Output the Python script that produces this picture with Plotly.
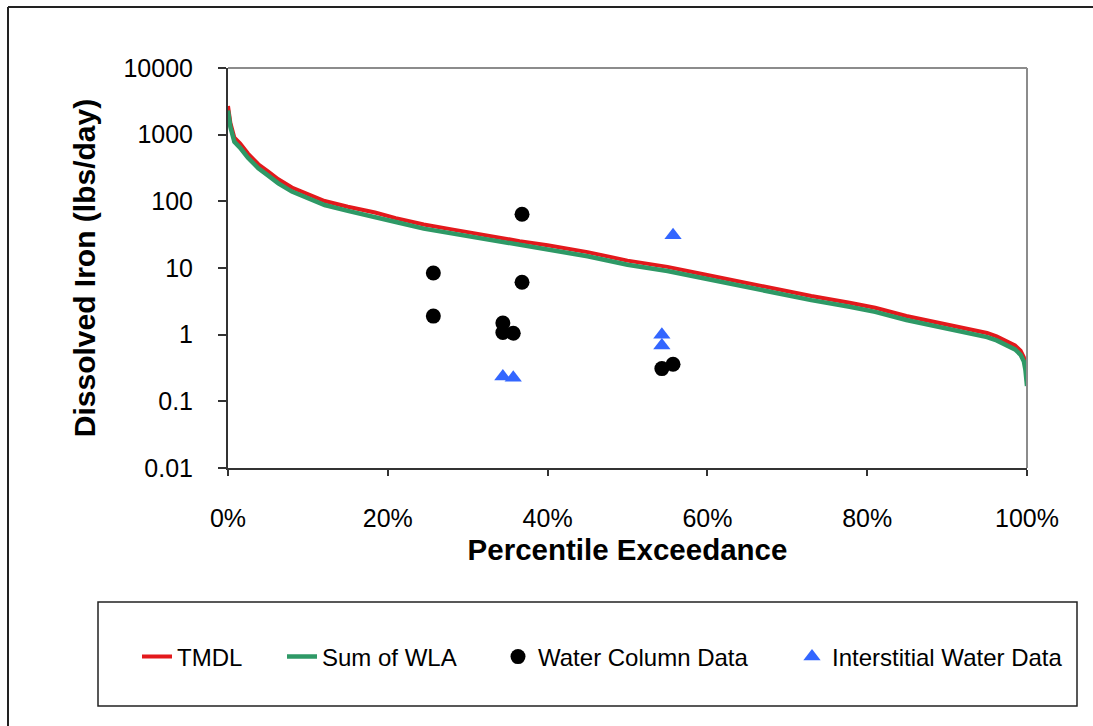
import plotly.graph_objects as go

# Percentile exceedance (%) for load duration curves
curve_pct = [0, 0.3, 0.8, 1.5, 2.5, 3.8, 5, 6.3, 8, 10, 12.1, 15, 18.4, 21, 24.5, 28, 32, 36.5,
             40, 45, 50, 55, 59.5, 64, 68.7, 73, 77.8, 81, 84.9, 88, 91, 93.3, 95, 96.2, 97.5,
             98.5, 99.2, 99.6, 99.8, 100]
tmdl = [2700, 1500, 900, 740, 520, 360, 282, 214, 161, 129, 101, 83, 68, 56, 45, 38, 31, 25.3,
        21.9, 17.3, 12.9, 10.4, 8.05, 6.2, 4.83, 3.8, 3.02, 2.53, 1.91, 1.59, 1.32, 1.17, 1.06,
        0.94, 0.8, 0.69, 0.575, 0.46, 0.35, 0.2]
wla = [2300, 1300, 780, 640, 450, 313, 245, 186, 140, 112, 88, 72, 59, 49, 39, 33, 27, 22,
       19, 15, 11.2, 9.0, 7.0, 5.4, 4.2, 3.3, 2.63, 2.2, 1.66, 1.38, 1.15, 1.02, 0.92, 0.82,
       0.7, 0.6, 0.5, 0.4, 0.3, 0.17]

wc_pct = [25.7, 25.7, 36.8, 36.8, 34.4, 34.4, 35.7, 54.3, 55.7]
wc_val = [8.4, 1.9, 64, 6.1, 1.5, 1.08, 1.05, 0.31, 0.36]

iw_pct = [55.7, 54.3, 54.3, 34.4, 35.7]
iw_val = [31, 1.0, 0.69, 0.235, 0.225]

y_ticks = [0.01, 0.1, 1, 10, 100, 1000, 10000]
y_tick_text = ["0.01", "0.1", "1", "10", "100", "1000", "10000"]
x_ticks = [0, 20, 40, 60, 80, 100]
x_tick_text = ["0%", "20%", "40%", "60%", "80%", "100%"]

FONT = "Liberation Sans, Arial, sans-serif"
W, H = 1093, 726
L, R, T, B = 228, 1027, 68, 468


def px(xp):
    return (xp - L) / (R - L)


def py(yp):
    return (B - yp) / (B - T)


fig = go.Figure()
fig.add_trace(go.Scatter(x=curve_pct, y=tmdl, mode="lines", name="TMDL",
                         line=dict(color="#E3191C", width=4), legend="legend"))
fig.add_trace(go.Scatter(x=curve_pct, y=wla, mode="lines", name="Sum of WLA",
                         line=dict(color="#2E9966", width=4.5), legend="legend2"))
fig.add_trace(go.Scatter(x=wc_pct, y=wc_val, mode="markers", name="Water Column Data",
                         marker=dict(color="black", size=15, symbol="circle"), legend="legend3"))
fig.add_trace(go.Scatter(x=iw_pct, y=iw_val, mode="markers", name="Interstitial Water Data",
                         marker=dict(color="#3366FF", size=15, symbol="triangle-up"),
                         legend="legend4"))

leg_font = dict(family=FONT, size=24, color="black")
leg_y = py(657)


def leg(xpix):
    return dict(x=px(xpix), y=leg_y, xanchor="left", yanchor="middle", font=leg_font,
                bgcolor="rgba(0,0,0,0)", borderwidth=0, itemsizing="trace")


shapes = [
    # plot area top & right border (gray)
    dict(type="line", xref="paper", yref="paper", x0=0, x1=1, y0=1, y1=1,
         line=dict(color="#8C8C8C", width=2)),
    dict(type="line", xref="paper", yref="paper", x0=1, x1=1, y0=0, y1=1,
         line=dict(color="#8C8C8C", width=2)),
    # legend box
    dict(type="rect", xref="paper", yref="paper", x0=px(98), x1=px(1077), y0=py(706), y1=py(602),
         line=dict(color="#222222", width=1.5)),
    # outer chart border (left and top)
    dict(type="line", xref="paper", yref="paper", x0=px(8), x1=px(8), y0=py(7), y1=py(730),
         line=dict(color="#222222", width=2)),
    dict(type="line", xref="paper", yref="paper", x0=px(8), x1=px(1100), y0=py(7), y1=py(7),
         line=dict(color="#222222", width=2)),
]

fig.update_layout(
    width=W, height=H,
    margin=dict(l=L, r=W - R, t=T, b=H - B, autoexpand=False),
    paper_bgcolor="white", plot_bgcolor="white",
    font=dict(family=FONT, color="black"),
    showlegend=True,
    legend=leg(137), legend2=leg(282), legend3=leg(498), legend4=leg(792),
    shapes=shapes,
    xaxis=dict(range=[0, 100], tickvals=x_ticks, ticktext=x_tick_text, showgrid=False,
               zeroline=False, showline=True, linecolor="#333333", linewidth=2,
               ticks="outside", ticklen=6, tickcolor="#333333", tickwidth=2,
               tickfont=dict(family=FONT, size=25), ticklabelstandoff=21,
               title=dict(text="<b>Percentile Exceedance</b>", font=dict(family=FONT, size=29.5),
                          standoff=8)),
    yaxis=dict(type="log", range=[-2, 4], tickvals=y_ticks, ticktext=y_tick_text,
               showgrid=False, zeroline=False, showline=True, linecolor="#333333", linewidth=2,
               ticks="outside", ticklen=8, tickcolor="#333333", tickwidth=2,
               tickfont=dict(family=FONT, size=25), ticklabelstandoff=20,
               title=dict(text="<b>Dissolved Iron (lbs/day)</b>", font=dict(family=FONT, size=30),
                          standoff=19)),
)

fig.write_html("out.html")
